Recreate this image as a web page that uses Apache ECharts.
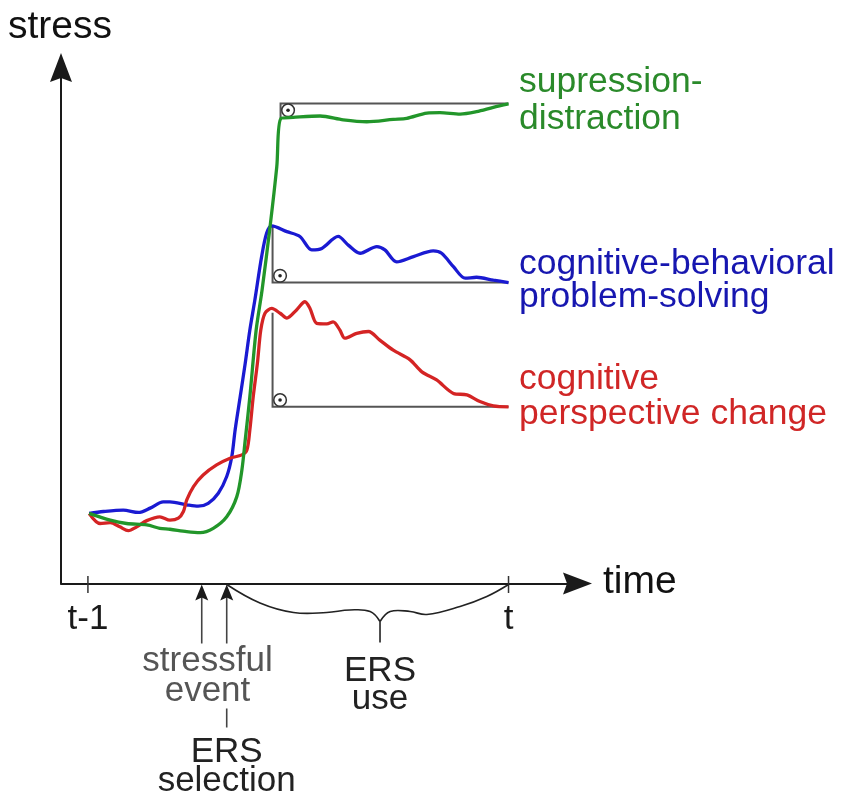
<!DOCTYPE html>
<html><head><meta charset="utf-8">
<script src="https://cdn.jsdelivr.net/npm/echarts@6/dist/echarts.min.js"></script>
<style>html,body{margin:0;padding:0;background:#fff}#c{width:851px;height:808px}</style>
</head><body><div id="c"></div>
<script>
// ---- data (time: t-1 = 0, t = 100; stress: arbitrary units, baseline 0) ----
const timeTicks = [0, 100];
const timeTickLabels = ['t-1', 't'];

const suppression = [[0.3,14.6],[5.3,13.2],[9.2,12.5],[14.0,12.2],[17.1,11.5],[19.5,11.3],[23.5,10.8],[26.7,10.6],[29.8,11.5],[33.0,13.9],[35.4,18.1],[36.6,23.6],[37.4,29.9],[38.5,38.9],[40.0,52.8],[41.4,61.1],[43.3,74.3],[44.9,86.8],[45.9,96.9],[48.8,97.1],[55.2,97.4],[60.7,96.6],[66.3,96.2],[72.6,96.7],[75.8,96.9],[80.6,98.0],[83.7,98.1],[88.5,97.8],[92.4,98.3],[96.4,99.2],[100,99.9]];

const problemSolving = [[0.3,14.6],[3.7,15.0],[8.4,15.3],[12.0,14.8],[14.8,15.7],[17.9,17.0],[19.5,17.0],[23.5,16.4],[26.2,16.1],[28.6,16.7],[31.0,18.8],[33.0,22.3],[34.2,26.4],[35.0,32.0],[36.2,38.9],[37.4,45.9],[38.5,52.8],[39.7,59.1],[41.3,68.1],[42.5,73.0],[43.7,74.5],[47.3,73.3],[50.4,72.3],[53.2,69.5],[55.6,69.8],[59.5,72.3],[61.9,70.5],[64.7,68.8],[68.7,70.2],[70.6,69.5],[73.4,67.0],[77.4,68.1],[82.1,69.3],[84.1,68.8],[86.9,66.0],[89.7,63.6],[92.4,63.8],[96.4,63.2],[100,62.7]];

const perspectiveChange = [[0.3,14.6],[2.9,12.5],[5.3,12.7],[7.6,11.8],[9.6,11.0],[11.6,11.8],[14.0,13.1],[17.1,13.9],[19.5,13.2],[21.5,13.6],[22.7,15.0],[23.5,17.4],[25.1,20.2],[27.4,22.6],[30.6,24.7],[33.8,26.1],[36.6,26.8],[37.8,27.8],[38.5,32.0],[39.3,38.9],[40.3,45.9],[41.1,52.8],[42.1,56.3],[43.7,57.3],[45.7,56.3],[47.3,55.3],[49.6,57.0],[51.6,58.7],[52.8,57.3],[54.4,54.2],[56.8,54.1],[58.3,54.5],[59.9,52.8],[61.1,51.1],[63.9,52.1],[66.7,52.5],[69.4,50.7],[72.6,48.6],[76.6,46.6],[79.4,44.1],[82.9,42.4],[86.9,39.6],[90.1,39.3],[93.2,37.9],[96.4,37.0],[100,36.8]];

// reference right-angle guides: start x, end x, base level, level where curve starts
const refStartX = [45.8, 43.9, 43.9];
const refEndX   = [100, 100, 100];
const refBaseY  = [100, 62.7, 36.8];
const refPeakY  = [96.9, 74.5, 56.4];

const eventX = [27.06, 33.0];      // stressful event, ERS selection
const braceSpan = [33.0, 100];     // ERS use

// ---- chart ----
const FONT = '"Liberation Sans", Arial, Helvetica, sans-serif';
const GREEN = '#22962a', BLUE = '#1a1ad2', RED = '#d42424';
const GREEN_T = '#2a8a2a', BLUE_T = '#1717b0', RED_T = '#d02626';

const chart = echarts.init(document.getElementById('c'), null, {renderer: 'canvas'});

function txt(text, x, y, size, color, align) {
  return {type: 'text', x: x, y: y, silent: true,
    style: {text: text, fill: color, font: size + 'px ' + FONT,
      align: align, verticalAlign: 'middle', textAlign: align, textVerticalAlign: 'middle'}};
}

const arrowPath = 'path://M11,0L22,29L11,25L0,29Z';

const option = {
  backgroundColor: '#fff',
  animation: false,
  grid: {left: 61, right: 273.5, top: 67.5, bottom: 224.5, containLabel: false, outerBoundsMode: 'none'},
  xAxis: {
    type: 'value', min: -6.4, max: 116.4,
    splitLine: {show: false},
    axisTick: {show: false},
    axisLine: {show: true, onZero: false, symbol: ['none', arrowPath], symbolSize: [22, 29],
      lineStyle: {color: '#1a1a1a', width: 2}},
    axisLabel: {show: true, customValues: timeTicks, margin: 18, fontSize: 35, fontFamily: FONT, color: '#1a1a1a',
      formatter: v => timeTickLabels[timeTicks.indexOf(v)] || ''}
  },
  yAxis: {
    type: 'value', min: 0, max: 107.5,
    splitLine: {show: false}, axisTick: {show: false}, axisLabel: {show: false},
    axisLine: {show: true, onZero: false, symbol: ['none', arrowPath], symbolSize: [22, 29],
      lineStyle: {color: '#1a1a1a', width: 2}}
  },
  graphic: [
    txt('stress', 60, 27, 39, '#111', 'center'),
    txt('time', 603, 582, 39, '#111', 'left'),
    txt('supression-', 519, 82.7, 35.5, GREEN_T, 'left'),
    txt('distraction', 519, 119.3, 35.5, GREEN_T, 'left'),
    txt('cognitive-behavioral', 519, 264.3, 35.5, BLUE_T, 'left'),
    txt('problem-solving', 519, 297.7, 35.5, BLUE_T, 'left'),
    txt('cognitive', 519, 379, 35.5, RED_T, 'left'),
    txt('perspective change', 519, 414, 35.5, RED_T, 'left'),
    txt('stressful', 207.5, 661, 35, '#555', 'center'),
    txt('event', 207.5, 691, 35, '#555', 'center'),
    txt('ERS', 380, 671, 35, '#222', 'center'),
    txt('use', 380, 699, 35, '#222', 'center'),
    txt('ERS', 226.7, 752.7, 35, '#222', 'center'),
    txt('selection', 226.7, 781, 35, '#222', 'center')
  ],
  series: [
    { // right-angle reference guides
      type: 'custom', name: 'reference', z: 1, silent: true,
      data: refStartX.map((s, i) => [s, refEndX[i], refBaseY[i], refPeakY[i]]),
      renderItem: (params, api) => {
        const s = api.coord([api.value(0), api.value(3)]);
        const c = api.coord([api.value(0), api.value(2)]);
        const e = api.coord([api.value(1), api.value(2)]);
        const dir = api.value(3) > api.value(2) ? -1 : 1;
        const cx = c[0] + 7.5, cy = c[1] + dir * 6.8;
        return {type: 'group', children: [
          {type: 'polyline', shape: {points: [s, c, e]}, style: {stroke: '#555', lineWidth: 2, fill: null}},
          {type: 'circle', shape: {cx: cx, cy: cy, r: 6.3}, style: {stroke: '#333', lineWidth: 1.5, fill: '#fff'}},
          {type: 'circle', shape: {cx: cx, cy: cy, r: 1.8}, style: {fill: '#222'}}
        ]};
      }
    },
    {type: 'line', name: 'cognitive-behavioral problem-solving', data: problemSolving, smooth: 0.3,
      showSymbol: false, z: 3, lineStyle: {color: BLUE, width: 3.3}, itemStyle: {color: BLUE}},
    {type: 'line', name: 'cognitive perspective change', data: perspectiveChange, smooth: 0.3,
      showSymbol: false, z: 4, lineStyle: {color: RED, width: 3.3}, itemStyle: {color: RED}},
    {type: 'line', name: 'supression-distraction', data: suppression, smooth: 0.3,
      showSymbol: false, z: 5, lineStyle: {color: GREEN, width: 3.3}, itemStyle: {color: GREEN}},
    { // ticks crossing the time axis
      type: 'custom', name: 'ticks', z: 6, silent: true,
      data: timeTicks.map(v => [v, 0]),
      renderItem: (params, api) => {
        const p = api.coord([api.value(0), 0]);
        return {type: 'line', shape: {x1: p[0], y1: p[1] - 7.5, x2: p[0], y2: p[1] + 9.5},
          style: {stroke: '#333', lineWidth: 1.5}};
      }
    },
    { // event arrows
      type: 'custom', name: 'events', z: 6, silent: true,
      data: eventX.map(v => [v, 0]),
      renderItem: (params, api) => {
        const p = api.coord([api.value(0), 0]);
        const x = p[0], y = p[1];
        const ch = [
          {type: 'line', shape: {x1: x, y1: y + 60, x2: x, y2: y + 12}, style: {stroke: '#444', lineWidth: 1.6}},
          {type: 'polygon', shape: {points: [[x, y + 1], [x + 6.5, y + 17], [x, y + 14], [x - 6.5, y + 17]]},
            style: {fill: '#1a1a1a'}}
        ];
        if (params.dataIndex === 1) {
          ch.push({type: 'line', shape: {x1: x, y1: y + 125, x2: x, y2: y + 144}, style: {stroke: '#444', lineWidth: 1.6}});
        }
        return {type: 'group', children: ch};
      }
    },
    { // brace for ERS use
      type: 'custom', name: 'brace', z: 6, silent: true,
      data: [braceSpan],
      renderItem: (params, api) => {
        const a = api.coord([api.value(0), 0]);
        const b = api.coord([api.value(1), 0]);
        const W = b[0] - a[0];
        const P = (f, dy) => [a[0] + f * W, a[1] + dy];
        const left = [P(0, 1), P(0.118, 19.5), P(0.237, 29), P(0.355, 29), P(0.437, 26.5), P(0.509, 28), P(0.544, 38)];
        const right = [P(0.544, 38), P(0.58, 28), P(0.651, 28), P(0.71, 31), P(0.828, 23), P(0.923, 13), P(1, 1)];
        return {type: 'group', children: [
          {type: 'polyline', shape: {points: left, smooth: 0.4}, style: {stroke: '#222', lineWidth: 1.6, fill: null}},
          {type: 'polyline', shape: {points: right, smooth: 0.4}, style: {stroke: '#222', lineWidth: 1.6, fill: null}},
          {type: 'line', shape: {x1: P(0.544, 0)[0], y1: a[1] + 38, x2: P(0.544, 0)[0], y2: a[1] + 59},
            style: {stroke: '#222', lineWidth: 1.6}}
        ]};
      }
    }
  ]
};
chart.setOption(option);
</script>
</body></html>
